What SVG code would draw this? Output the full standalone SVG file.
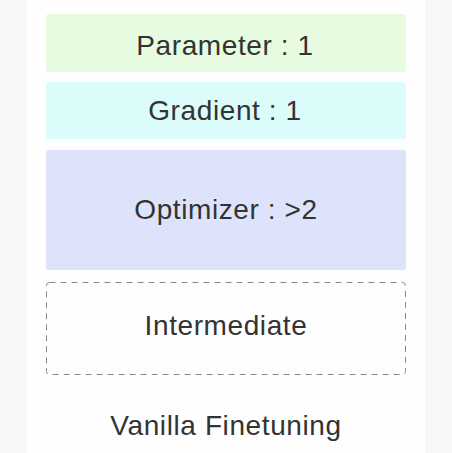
<svg xmlns="http://www.w3.org/2000/svg" width="452" height="453" viewBox="0 0 452 453">
  <style>
    .lbl { font-family: "Liberation Sans", Arial, sans-serif; font-size: 28px; letter-spacing: 0.6px; fill: #333; text-anchor: middle; }
    .box { stroke: none; }
  </style>
  <rect x="0" y="0" width="452" height="453" fill="#f7f7f7"/>
  <rect x="27" y="0" width="398" height="453" fill="#fefefe"/>
  <g id="parameter">
    <rect class="box" x="46" y="14" width="360" height="58" rx="3" fill="#e6fbe0"/>
    <text class="lbl" x="225" y="55">Parameter : 1</text>
  </g>
  <g id="gradient">
    <rect class="box" x="46" y="82" width="360" height="57" rx="3" fill="#dcfcfb"/>
    <text class="lbl" x="225" y="120">Gradient : 1</text>
  </g>
  <g id="optimizer">
    <rect class="box" x="46" y="150" width="360" height="120" rx="3" fill="#dde3fa"/>
    <text class="lbl" x="226" y="219">Optimizer : &gt;2</text>
  </g>
  <g id="intermediate">
    <rect x="46.5" y="282.5" width="359" height="92" rx="3" fill="none" stroke="#888" stroke-width="1" stroke-dasharray="6,5"/>
    <text class="lbl" x="226" y="335">Intermediate</text>
  </g>
  <g id="caption">
    <text class="lbl" x="226" y="435">Vanilla Finetuning</text>
  </g>
  <g id="connectors"/>
</svg>
